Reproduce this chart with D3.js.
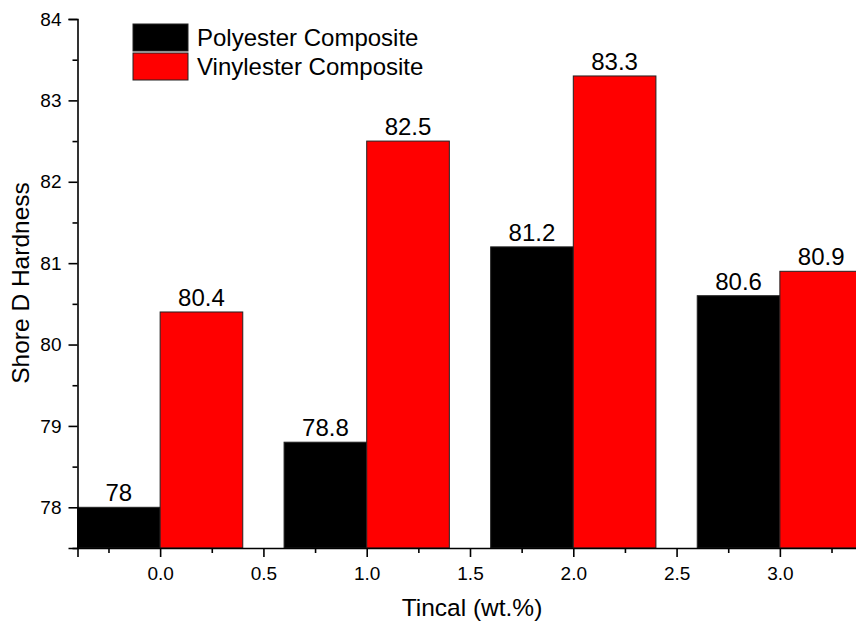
<!DOCTYPE html>
<html><head><meta charset="utf-8">
<script src="https://cdn.jsdelivr.net/npm/d3@7"></script>
<style>body{margin:0;background:#fff}svg{display:block;font-family:Arial,"Liberation Sans",sans-serif}</style>
</head><body>
<svg id="c" width="856" height="622"></svg>
<script>
const categories = [0, 1, 2, 3];
const polyester = [78, 78.8, 81.2, 80.6];
const vinylester = [80.4, 82.5, 83.3, 80.9];
const seriesNames = ["Polyester Composite", "Vinylester Composite"];
const seriesColors = ["#000000", "#ff0000"];
const yTicks = [78, 79, 80, 81, 82, 83, 84];
const xTicks = [0, 0.5, 1, 1.5, 2, 2.5, 3];

const svg = d3.select("#c");
const x = d3.scaleLinear().domain([-0.4, 3.4]).range([77.5, 862.5]);
const y = d3.scaleLinear().domain([77.5, 84]).range([548, 19]);
const base = 77.5, bw = 0.4;

const series = [polyester, vinylester];
series.forEach((vals, si) => {
  svg.append("g").selectAll("rect").data(categories).join("rect")
    .attr("x", d => si === 0 ? x(d - bw) : x(d))
    .attr("width", x(bw) - x(0))
    .attr("y", (d, i) => y(vals[i]))
    .attr("height", (d, i) => y(base) - y(vals[i]))
    .attr("fill", seriesColors[si])
    .attr("stroke", "#222").attr("stroke-width", 1);
  svg.append("g").selectAll("text").data(categories).join("text")
    .attr("x", d => x(si === 0 ? d - bw / 2 : d + bw / 2))
    .attr("y", (d, i) => y(vals[i]) - 6)
    .attr("text-anchor", "middle").attr("font-size", 24).attr("fill", "#000")
    .text((d, i) => String(vals[i]));
});

// Y axis
const yAxis = d3.axisLeft(y).tickValues(yTicks).tickSize(9).tickPadding(7).tickFormat(d3.format("d"));
const gy = svg.append("g").attr("transform", `translate(${x(-0.4)},0)`).call(yAxis);
gy.select(".domain").attr("stroke-width", 1.6);
gy.selectAll(".tick line").attr("stroke-width", 1.6);
gy.selectAll(".tick text").attr("font-size", 19).attr("font-family", "Arial, 'Liberation Sans', sans-serif");
const yMinor = d3.axisLeft(y).tickValues(d3.range(77.5, 84.01, 0.5).filter(v => !yTicks.includes(v))).tickSize(5).tickFormat("");
const gym = svg.append("g").attr("transform", `translate(${x(-0.4)},0)`).call(yMinor);
gym.select(".domain").remove();
gym.selectAll(".tick line").attr("stroke-width", 1.6);

// X axis
const xAxis = d3.axisBottom(x).tickValues(xTicks).tickSize(9).tickPadding(10).tickFormat(d3.format(".1f"));
const gx = svg.append("g").attr("transform", `translate(0,${y(base)})`).call(xAxis);
gx.select(".domain").attr("stroke-width", 1.6);
gx.selectAll(".tick line").attr("stroke-width", 1.6);
gx.selectAll(".tick text").attr("font-size", 19).attr("font-family", "Arial, 'Liberation Sans', sans-serif");
const xMinor = d3.axisBottom(x).tickValues([-0.25, 0.25, 0.75, 1.25, 1.75, 2.25, 2.75, 3.25]).tickSize(5).tickFormat("");
const gxm = svg.append("g").attr("transform", `translate(0,${y(base)})`).call(xMinor);
gxm.select(".domain").remove();
gxm.selectAll(".tick line").attr("stroke-width", 1.6);

// Axis titles
svg.append("text").attr("x", 472).attr("y", 616).attr("text-anchor", "middle")
  .attr("font-size", 24.5).text("Tincal (wt.%)");
svg.append("text").attr("transform", "translate(29,283) rotate(-90)").attr("text-anchor", "middle")
  .attr("font-size", 24.5).text("Shore D Hardness");

// Legend
const lg = svg.append("g");
seriesNames.forEach((n, i) => {
  const ty = 24 + i * 29;
  lg.append("rect").attr("x", 133).attr("y", ty).attr("width", 55).attr("height", 27)
    .attr("fill", seriesColors[i]).attr("stroke", "#222").attr("stroke-width", 1);
  lg.append("text").attr("x", 197).attr("y", ty + 13.5).attr("dy", "0.35em")
    .attr("font-size", 24).text(n);
});
</script>
</body></html>
